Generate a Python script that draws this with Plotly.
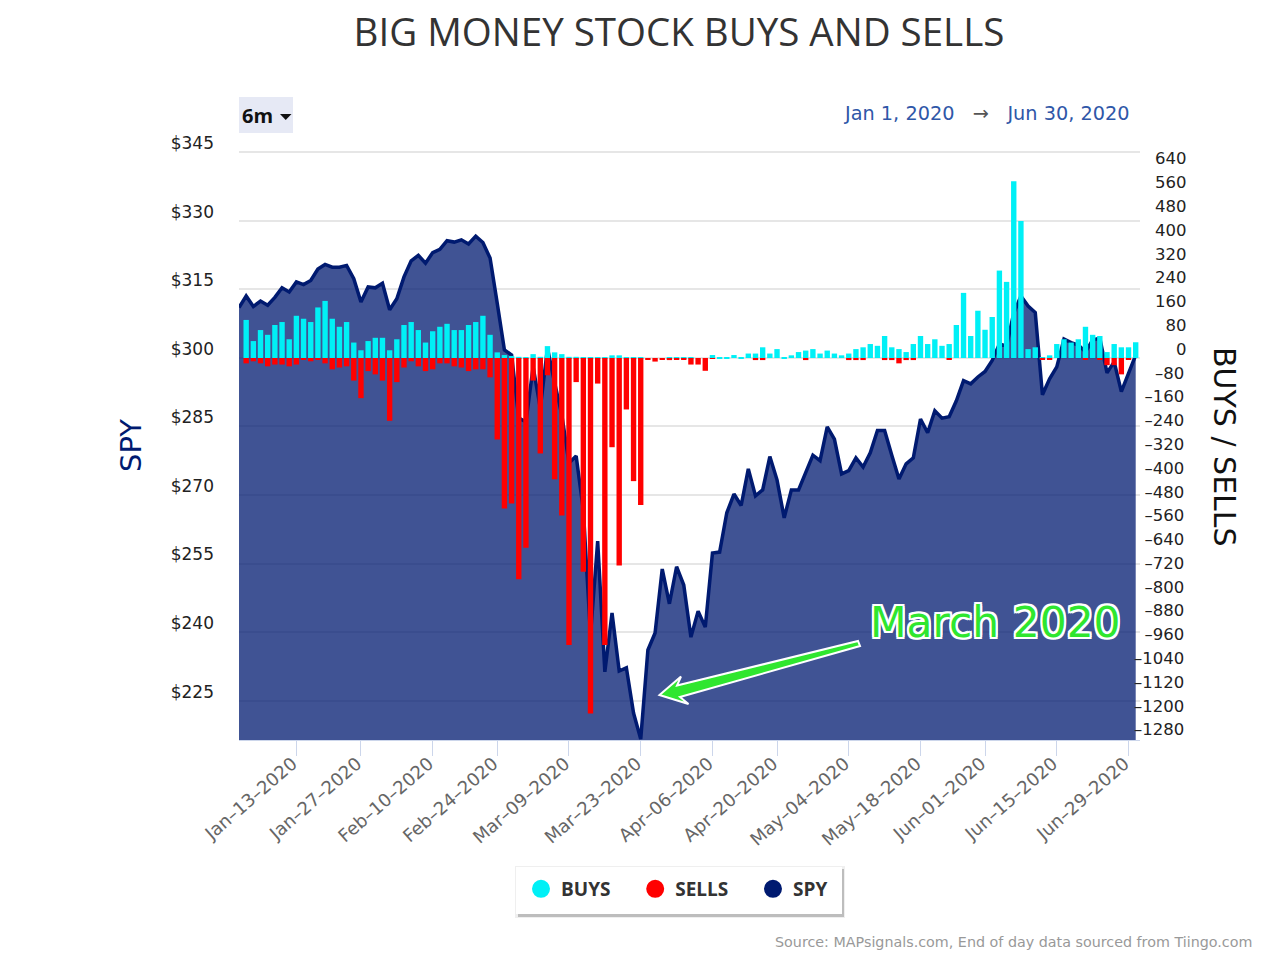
import plotly.graph_objects as go

JAN = [2,3,6,7,8,9,10,13,14,15,16,17,21,22,23,24,27,28,29,30,31]
FEB = [3,4,5,6,7,10,11,12,13,14,18,19,20,21,24,25,26,27,28]
MAR = [2,3,4,5,6,9,10,11,12,13,16,17,18,19,20,23,24,25,26,27,30,31]
APR = [1,2,3,6,7,8,9,13,14,15,16,17,20,21,22,23,24,27,28,29,30]
MAY = [1,4,5,6,7,8,11,12,13,14,15,18,19,20,21,22,26,27,28,29]
JUN = [1,2,3,4,5,8,9,10,11,12,15,16,17,18,19,22,23,24,25,26,29,30]
dates = [f"{m}-{d:02d}-2020" for m, ds in
         [("Jan",JAN),("Feb",FEB),("Mar",MAR),("Apr",APR),("May",MAY),("Jun",JUN)] for d in ds]
spy_dates = ["Dec-31-2019"] + dates

spy = [311.0,
 313.5,311.2,312.4,311.5,313.2,315.3,314.4,316.6,316.0,316.9,
 319.4,320.4,319.8,319.8,320.2,317.3,312.2,315.5,315.3,316.3,
 310.5,312.9,317.7,321.2,322.4,320.7,323.0,323.7,325.6,325.3,
 325.8,324.9,326.6,325.2,321.8,311.9,301.7,300.6,286.8,286.0,
 298.0,289.0,302.1,294.5,287.5,277.0,278.5,266.7,239.4,259.9,
 231.3,244.2,231.5,232.2,222.3,216.6,236.1,239.8,253.8,246.2,
 254.3,250.3,238.9,244.6,241.1,257.3,257.5,266.1,270.2,267.7,
 275.7,269.8,271.1,278.4,273.3,265.0,271.1,271.1,274.9,278.7,
 277.5,284.9,282.2,274.6,275.3,278.1,276.1,279.2,284.1,284.1,
 278.7,273.5,276.8,278.1,286.6,283.6,288.4,286.8,287.1,290.6,
 295.0,294.3,295.8,297.0,299.4,303.0,302.6,309.8,313.5,311.3,
 309.9,291.9,295.4,298.0,304.1,303.3,302.8,301.3,303.9,304.3,
 296.7,299.1,292.6,296.7,300.6]

buys = [128,57,94,78,111,121,63,142,132,121,
 170,192,132,105,121,52,26,57,68,68,
 26,63,111,121,94,52,90,105,115,94,
 94,111,121,142,78,19,10,7,4,2,
 13,4,40,19,13,4,4,2,2,2,
 2,9,9,2,2,2,0,0,0,2,
 2,2,2,0,0,10,3,3,10,3,
 15,15,36,15,30,3,9,20,25,30,
 15,25,15,9,15,30,36,47,41,74,
 36,30,20,47,74,47,63,41,47,111,
 219,74,159,95,138,294,256,594,461,30,
 36,3,9,47,63,52,63,105,78,74,
 20,47,36,36,53]

sells = [18,11,18,28,22,22,28,22,4,11,
 4,18,38,32,28,76,135,44,55,76,
 211,81,32,11,28,44,38,18,18,28,
 32,44,38,38,65,274,506,489,744,638,
 76,321,58,408,530,965,81,719,1195,86,
 965,300,698,173,414,494,6,12,4,7,
 4,4,22,22,43,2,0,0,0,0,
 0,7,7,0,0,0,0,0,7,0,
 0,0,0,0,7,7,7,0,0,7,
 7,18,7,7,0,0,0,0,6,0,
 0,0,0,0,0,0,0,0,0,0,
 0,6,6,0,0,0,0,6,0,5,
 24,24,55,6,0]

x_ticks = ["Jan-13-2020","Jan-27-2020","Feb-10-2020","Feb-24-2020","Mar-09-2020","Mar-23-2020",
           "Apr-06-2020","Apr-20-2020","May-04-2020","May-18-2020","Jun-01-2020","Jun-15-2020","Jun-29-2020"]
spy_ticks = [225,240,255,270,285,300,315,330,345]
flow_ticks = [640,560,480,400,320,240,160,80,0,-80,-160,-240,-320,-400,-480,-560,-640,-720,-800,
              -880,-960,-1040,-1120,-1200,-1280]

L, R, T, B = 239, 1140, 151, 740
PW, PH = R - L, B - T
px = lambda x: (x - L) / PW
py = lambda y: (B - y) / PH

NAVY = "#001a70"
TICK = "DejaVu Sans"
FIG_SPACE = "\u2007"

def flow_label(v):
    s = str(v).replace("-", "\u2013")
    return FIG_SPACE * (5 - len(s)) + s

fig = go.Figure()
fig.add_trace(go.Scatter(x=spy_dates, y=spy, mode="lines", line=dict(color=NAVY, width=3.5),
                         fill="tozeroy", fillcolor="rgba(0,26,112,0.75)", showlegend=False,
                         hoverinfo="skip", yaxis="y"))
fig.add_trace(go.Bar(x=dates, y=buys, marker=dict(color="#00f0f6", line_width=0), width=0.75,
                     showlegend=False, yaxis="y2"))
fig.add_trace(go.Bar(x=dates, y=[-v for v in sells], marker=dict(color="#ff0000", line_width=0), width=0.75,
                     showlegend=False, yaxis="y2"))
PAD = "\u00a0" * 4
for name, col in [("BUYS" + PAD, "#00f0f6"), ("SELLS" + PAD, "#ff0000"), ("SPY", NAVY)]:
    fig.add_trace(go.Scatter(x=[None], y=[None], mode="markers", name=name,
                             marker=dict(color=col, size=19, symbol="circle", line=dict(color=col, width=2)),
                             yaxis="y"))

white_outline = ",".join(f"{a}px {b}px 0 #fff" for a, b in
                         [(-2,-2),(0,-2),(2,-2),(-2,0),(2,0),(-2,2),(0,2),(2,2)])

def ann(x, y, text, xanchor="center", **kw):
    return dict(x=px(x), y=py(y), xref="paper", yref="paper", text=text, showarrow=False,
                xanchor=xanchor, yanchor="middle", **kw)

annotations = [
    ann(131, 446, "SPY", textangle=-90, font=dict(family="DejaVu Sans", size=29, color=NAVY)),
    ann(1225, 447, "BUYS / SELLS", textangle=90, font=dict(family="DejaVu Sans", size=30, color="#111")),
    ann(257, 115, "<b>6m</b>", font=dict(family="Open Sans", size=20, color="#111")),
    ann(1132, 114, "Jan 1, 2020 &nbsp;&nbsp;<span style='color:#555'>→</span>&nbsp;&nbsp; Jun 30, 2020", xanchor="right",
        font=dict(family="DejaVu Sans", size=19.3, color="#2f57a8")),
    ann(1254, 942, "Source: MAPsignals.com, End of day data sourced from Tiingo.com", xanchor="right",
        font=dict(family="DejaVu Sans", size=14.3, color="#999999")),
    ann(995, 622, "March 2020", font=dict(family="DejaVu Sans", size=42.4, color="#2fe62f", shadow=white_outline)),
]

def path(pts):
    return "M " + " L ".join(f"{px(a):.5f},{py(b):.5f}" for a, b in pts) + " Z"

def rshape(x0, y0, x1, y1, **kw):
    return dict(type="rect", xref="paper", yref="paper", x0=px(x0), x1=px(x1), y0=py(y0), y1=py(y1), **kw)

arrow = [(659.5,695),(681,676.5),(677,685.5),(858,641),(860,646),(680,697),(688.5,704)]
shapes = [
    dict(type="path", xref="paper", yref="paper", path=path(arrow), fillcolor="#2fe62f",
         line=dict(color="white", width=2), layer="above"),
    rshape(239, 97, 293, 133, fillcolor="#e6e9f5", line_width=0, layer="below"),
    dict(type="path", xref="paper", yref="paper", path=path([(280,114),(291.5,114),(285.7,120)]),
         fillcolor="#111", line_width=0, layer="above"),
    rshape(515, 866, 845, 918, fillcolor="#efefef", line_width=0, layer="below"),
    rshape(518, 869, 844, 917, fillcolor="#bdbdbd", line_width=0, layer="below"),
    rshape(516, 867, 842, 914, fillcolor="white", line_width=0, layer="below"),
]

fig.update_layout(
    width=1264, height=954, margin=dict(l=L, r=1264 - R, t=T, b=954 - B, pad=0, autoexpand=False),
    paper_bgcolor="white", plot_bgcolor="white", barmode="overlay",
    title=dict(text="BIG MONEY STOCK BUYS AND SELLS", x=679 / 1264, xanchor="center",
               y=1 - 33 / 954, yanchor="middle",
               font=dict(family="Open Sans", size=38.5, color="#333")),
    xaxis=dict(type="category", categoryorder="array", categoryarray=spy_dates,
               range=[0, 125.6],
               tickmode="array", tickvals=x_ticks, ticktext=[t.replace("-", "\u2013") for t in x_ticks],
               tickangle=-41, ticks="outside", ticklen=15, tickcolor="#ccd6eb", linecolor="#ccd6eb",
               showline=True, showgrid=False, ticklabelstandoff=-10, ticklabelshift=-4,
               tickfont=dict(family=TICK, size=18, color="#666")),
    yaxis=dict(range=[216.41, 345.22], tickmode="array", tickvals=spy_ticks,
               ticktext=[f"${v}" for v in spy_ticks], showgrid=True, gridcolor="#e6e6e6", gridwidth=2,
               zeroline=False, showline=False, ticks="", ticklabelshift=-9,
               ticklabelstandoff=24, tickfont=dict(family=TICK, size=17, color="#222")),
    yaxis2=dict(range=[-1284.5, 696.1], overlaying="y", side="right", anchor="x",
                tickmode="array", tickvals=flow_ticks, ticktext=[flow_label(v) for v in flow_ticks],
                showgrid=False, zeroline=False, showline=False, ticks="", ticklabelshift=-9,
                ticklabelstandoff=-7, tickfont=dict(family=TICK, size=16.5, color="#222")),
    legend=dict(orientation="h", x=px(521), y=py(870), xanchor="left", yanchor="top",
                bgcolor="rgba(0,0,0,0)", borderwidth=0, itemsizing="trace",
                font=dict(family="Open Sans", size=19, color="#333", weight=700), traceorder="normal"),
    annotations=annotations, shapes=shapes, showlegend=True,
)

fig.write_html("out.html", config=dict(displayModeBar=False),
               post_script="document.body.style.margin='0';document.body.style.overflow='hidden';")
